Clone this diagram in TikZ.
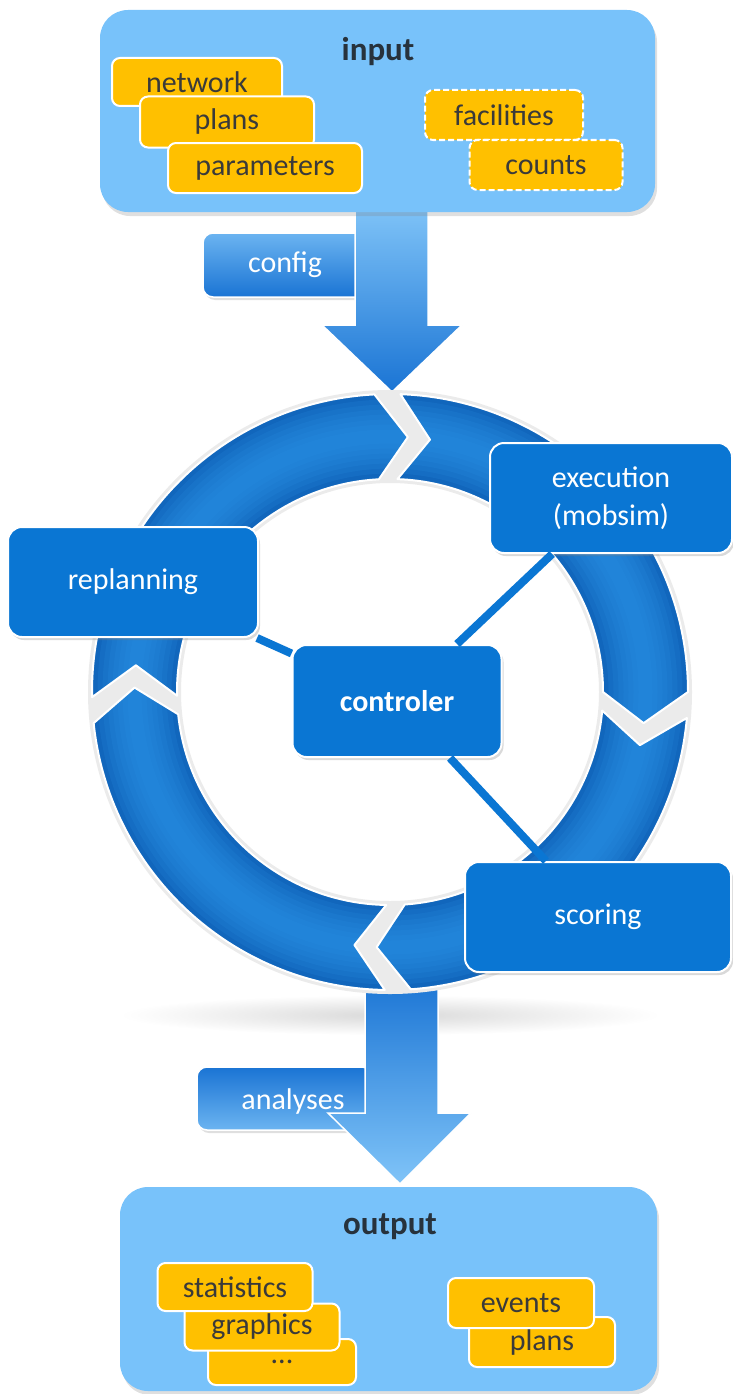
\documentclass[tikz,border=0pt]{standalone}
\usepackage{fontspec}
\setmainfont{Carlito}
\usetikzlibrary{shadows}
\definecolor{boxblue}{HTML}{78C2FA}
\definecolor{nodeblue}{HTML}{0A76D3}
\definecolor{ringdark}{HTML}{0C5EB4}
\definecolor{ringlight}{HTML}{2A92E6}
\definecolor{ringgap}{HTML}{EBEBEB}
\definecolor{filegold}{HTML}{FFC000}
\definecolor{filetext}{HTML}{3A3A3A}
\definecolor{titletext}{HTML}{27323C}
\definecolor{arrowlight}{HTML}{80C4F8}
\definecolor{arrowdark}{HTML}{1A74D4}
% ring geometry
\newcommand{\ringout}{298}
\newcommand{\ringin}{213}
\newcommand{\ringmid}{255.5}
\newcommand{\tipang}{7}
\newcommand{\ringseg}[2]{(#1:\ringout) arc[start angle=#1, end angle=#2, radius=\ringout] -- ({#2-\tipang}:\ringmid) -- (#2:\ringin) arc[start angle=#2, end angle=#1, radius=\ringin] -- ({#1-\tipang}:\ringmid) -- cycle}
\begin{document}
\begin{tikzpicture}[x=1pt, y=-1pt,
  groupbox/.style={fill=boxblue, rounded corners=28pt, inner sep=0pt, drop shadow={opacity=0.25, shadow xshift=2pt, shadow yshift=-4pt}},
  filebox/.style={fill=filegold, draw=white, line width=2pt, rounded corners=8pt, text=filetext, inner sep=0pt},
  optfile/.style={filebox, dash pattern=on 6pt off 3pt},
  stagebox/.style={fill=nodeblue, draw=white, line width=2pt, rounded corners=14pt, text=white, align=center, inner sep=0pt, drop shadow={opacity=0.3, shadow xshift=2pt, shadow yshift=-3pt}},
  flowarrow/.style={draw=white, line width=1.5pt},
  sidebox/.style={draw=white, line width=1.5pt, rounded corners=10pt, drop shadow={opacity=0.25, shadow xshift=2pt, shadow yshift=-3pt}},
  link/.style={draw=nodeblue, line width=8pt}]
\useasboundingbox (0,0) rectangle (732,1394);
\begin{scope}[every node/.style={font=\fontsize{30}{38}\selectfont}]
% shadow under the ring
\shade[inner color=black!15, outer color=white] (390,1015) ellipse [x radius=270, y radius=20];
% config
\path[sidebox, top color=arrowlight!80!arrowdark, bottom color=arrowdark] (203,233) rectangle (372,297);
\path[flowarrow, top color=arrowlight, bottom color=arrowdark] (355,205) -- (428,205) -- (428,325) -- (462,325) -- (392,392) -- (322,325) -- (355,325) -- cycle;
\node[text=white] (config) at (285,265) {config};
% analyses
\path[sidebox, top color=arrowdark, bottom color=arrowlight!80!arrowdark] (197,1067) rectangle (372,1130);
\path[flowarrow, top color=arrowdark, bottom color=arrowlight] (365,975) -- (438,975) -- (438,1113) -- (471,1113) -- (400,1184) -- (328,1113) -- (365,1113) -- cycle;
\node[text=white] (analyses) at (293,1101) {analyses};
% ring
\begin{scope}[shift={(390,692)}, y=1pt]
\fill[ringgap, even odd rule] (0,0) circle (302) circle (209);
\foreach \s/\e in {88/0, -5/-86, -91/-174, -179/-267}{
  \begin{scope}
  \clip \ringseg{\s}{\e};
  \fill[ringdark] (0,0) circle (\ringout);
  \foreach \w in {84,74,...,14}
    \draw[ringlight, line width=\w pt, opacity=0.17] (0,0) circle (\ringmid);
  \end{scope}
  \draw[white, line width=2pt, line join=round] \ringseg{\s}{\e};
}
\end{scope}
% stages
\node[stagebox, minimum width=242pt, minimum height=110pt] (execution) at (611,498) {execution\\(mobsim)};
\node[stagebox, minimum width=250pt, minimum height=110pt] (replanning) at (133,582) {replanning};
\node[stagebox, minimum width=209pt, minimum height=112pt, font=\fontsize{30}{38}\selectfont\bfseries] (controler) at (397,701) {controler};
\node[stagebox, minimum width=266pt, minimum height=110pt] (scoring) at (598,917) {scoring};
\draw[link] (replanning) -- (controler);
\draw[link] (controler) -- (execution);
\draw[link] (controler) -- (scoring);
% input
\node[groupbox, minimum width=555pt, minimum height=202pt] (inputbox) at (377.5,111) {};
\node[font=\fontsize{33}{36}\selectfont\bfseries, text=titletext] (inputtitle) at (378,52) {input};
\node[filebox, minimum width=170pt, minimum height=48pt] (network) at (197,82) {network};
\node[filebox, minimum width=174pt, minimum height=51pt] (inplans) at (227,122) {plans};
\node[filebox, minimum width=194pt, minimum height=50pt] (parameters) at (265,168) {parameters};
\node[optfile, minimum width=158pt, minimum height=50pt] (facilities) at (504,115) {facilities};
\node[optfile, minimum width=153pt, minimum height=50pt] (counts) at (546,165) {counts};
% output
\node[groupbox, minimum width=537pt, minimum height=204pt] (outputbox) at (388.5,1289) {};
\node[font=\fontsize{33}{36}\selectfont\bfseries, text=titletext] (outputtitle) at (390,1227) {output};
\node[filebox, minimum width=148pt, minimum height=46pt] (dots) at (282,1362) {...};
\node[filebox, minimum width=155pt, minimum height=47pt] (graphics) at (262,1327) {graphics};
\node[filebox, minimum width=155pt, minimum height=48pt] (statistics) at (235,1287) {statistics};
\node[filebox, minimum width=146pt, minimum height=50pt] (outplans) at (542,1342) {plans};
\node[filebox, minimum width=146pt, minimum height=50pt] (events) at (521,1303) {events};
\end{scope}
\end{tikzpicture}
\end{document}
